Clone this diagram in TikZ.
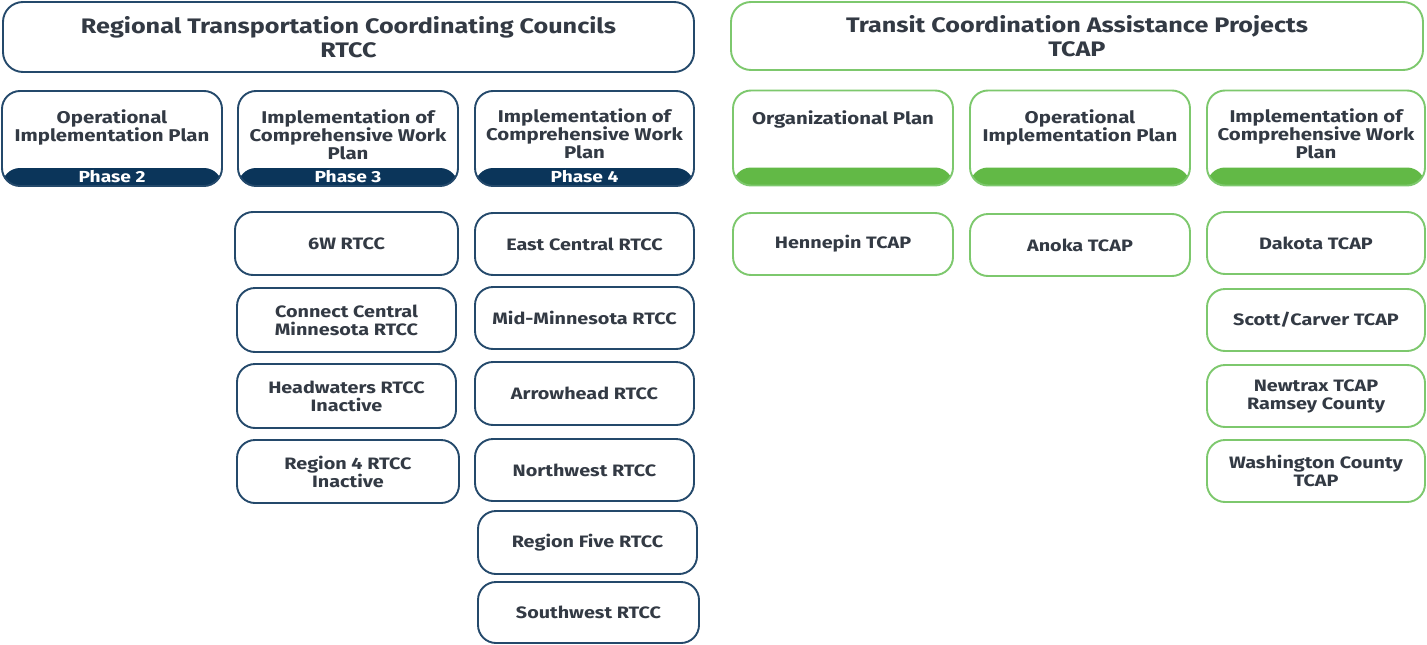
\documentclass[tikz,border=0pt]{standalone}
\usepackage{fontspec}
\setmainfont{Fira Sans}[FakeStretch=1.2]
\definecolor{navyline}{HTML}{24496B}
\definecolor{navyband}{HTML}{0B355A}
\definecolor{greenline}{HTML}{7DC86D}
\definecolor{greenband}{HTML}{62B946}
\definecolor{txtc}{HTML}{333A44}
\tikzset{
  box/.style={draw, rounded corners=18pt, line width=1.9pt, fill=white, inner sep=0pt,
    minimum width=220pt, minimum height=63pt, text=txtc, align=center,
    font=\bfseries\fontsize{16.5}{18}\selectfont},
  rt/.style={box, draw=navyline},
  tc/.style={box, draw=greenline},
  hdr/.style={font=\bfseries\fontsize{21}{24}\selectfont, minimum height=70pt, rounded corners=20pt},
  phase/.style={minimum height=95pt, path picture={\fill[#1] ([yshift=18pt]path picture bounding box.south west) rectangle (path picture bounding box.south east);}},
  ptxt/.style={text=txtc, align=center, inner sep=0pt, anchor=north, font=\bfseries\fontsize{17}{18}\selectfont},
  band/.style={text=white, inner sep=0pt, font=\bfseries\fontsize{16}{16}\selectfont}
}
\begin{document}
\begin{tikzpicture}[x=1pt,y=-1pt]
\useasboundingbox (0,0) rectangle (1427,645);
% headers
\node[rt, hdr, minimum width=691pt] (rtcc) at (348.5,37) {Regional Transportation Coordinating Councils\\RTCC};
\node[tc, hdr, minimum width=692pt, minimum height=68pt] (tcap) at (1077,36) {Transit Coordination Assistance Projects\\TCAP};
% phase boxes RTCC
\node[rt, phase=navyband] (p2) at (112,138.5) {};
\node[rt, phase=navyband] (p3) at (348,138.5) {};
\node[rt, phase=navyband, minimum width=219pt] (p4) at (584.5,138.5) {};
\node[ptxt] (p2t) at (112,110) {Operational\\Implementation Plan};
\node[ptxt] (p3t) at (348,110) {Implementation of\\Comprehensive Work\\Plan};
\node[ptxt] (p4t) at (584.5,109) {Implementation of\\Comprehensive Work\\Plan};
\node[band] (p2b) at (112,177) {Phase 2};
\node[band] (p3b) at (348,177) {Phase 3};
\node[band] (p4b) at (584.5,177) {Phase 4};
% phase boxes TCAP
\node[tc, phase=greenband] (o1) at (843,138) {};
\node[tc, phase=greenband] (o2) at (1080,138) {};
\node[tc, phase=greenband, minimum width=218pt] (o3) at (1316,138) {};
\node[ptxt] (o1t) at (843,111) {Organizational Plan};
\node[ptxt] (o2t) at (1080,110) {Operational\\Implementation Plan};
\node[ptxt] (o3t) at (1316,109) {Implementation of\\Comprehensive Work\\Plan};
% RTCC items
\node[rt, minimum width=223pt] (w6) at (346.5,243.5) {6W RTCC};
\node[rt, minimum width=219pt, minimum height=64pt] (cc) at (346.5,320) {Connect Central\\Minnesota RTCC};
\node[rt, minimum width=219pt, minimum height=64pt] (hw) at (346.5,396) {Headwaters RTCC\\Inactive};
\node[rt, minimum width=222pt] (r4) at (348,471.5) {Region 4 RTCC\\Inactive};
\node[rt, minimum width=219pt, minimum height=62pt] (ec) at (584.5,244) {East Central RTCC};
\node[rt, minimum width=219pt, minimum height=62pt] (mm) at (584.5,318) {Mid-Minnesota RTCC};
\node[rt, minimum width=219pt] (ar) at (584.5,393.5) {Arrowhead RTCC};
\node[rt, minimum width=219pt, minimum height=62pt] (nw) at (584.5,470) {Northwest RTCC};
\node[rt, minimum width=219pt] (r5) at (587.5,542.5) {Region Five RTCC};
\node[rt, minimum width=221pt, minimum height=61pt] (sw) at (588.5,612.5) {Southwest RTCC};
% TCAP items
\node[tc, minimum height=62pt] (hp) at (843,244) {Hennepin TCAP};
\node[tc, minimum height=62pt] (an) at (1080,245) {Anoka TCAP};
\node[tc, minimum width=218pt, minimum height=62pt] (dk) at (1316,243) {Dakota TCAP};
\node[tc, minimum width=218pt, minimum height=62pt] (sc) at (1316,320) {Scott/Carver TCAP};
\node[tc, minimum width=218pt, minimum height=62pt] (nt) at (1316,396) {Newtrax TCAP\\Ramsey County};
\node[tc, minimum width=218pt, minimum height=62pt] (wc) at (1316,471) {Washington County\\TCAP};
\end{tikzpicture}
\end{document}
